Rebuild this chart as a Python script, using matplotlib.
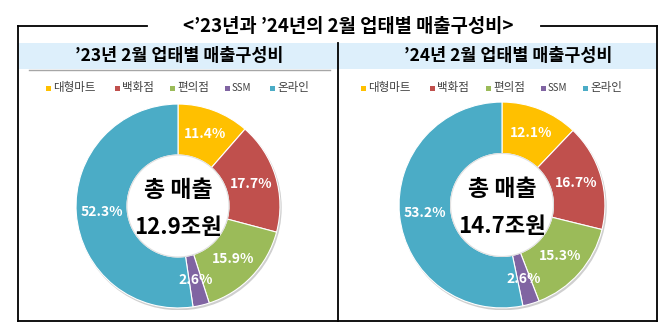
import numpy as np
import matplotlib.pyplot as plt
from matplotlib.patches import Rectangle, Circle, Wedge

plt.rcParams['font.family'] = ['Noto Sans CJK KR', 'DejaVu Sans']

W, H = 671, 335

categories = ["대형마트", "백화점", "편의점", "SSM", "온라인"]
share_23 = [11.4, 17.7, 15.9, 2.6, 52.3]
share_24 = [12.1, 16.7, 15.3, 2.6, 53.2]
total_23 = "12.9조원"
total_24 = "14.7조원"
colors = ["#FFC000", "#C0504D", "#9BBB59", "#8064A2", "#4BACC6"]

fig = plt.figure(figsize=(W / 100, H / 100), dpi=100)

# 픽셀 좌표(위에서부터) -> figure 비율
def fx(x):
    return x / W

def fy(y):
    return 1 - y / H

# 바깥 테두리와 제목 밴드
bg = fig.add_axes([0, 0, 1, 1])
bg.set_xlim(0, W)
bg.set_ylim(H, 0)
bg.axis("off")

bg.add_patch(Rectangle((18, 43), 639, 26, facecolor="#DDEFFB", edgecolor="none"))
lw = 1.3
bg.plot([18, 147], [26, 26], color="black", lw=lw)
bg.plot([541, 657], [26, 26], color="black", lw=lw)
bg.plot([18, 18], [26, 321], color="black", lw=lw)
bg.plot([657, 657], [26, 321], color="black", lw=lw)
bg.plot([18, 657], [321, 321], color="black", lw=lw)
bg.plot([338, 338], [43, 321], color="black", lw=lw)
bg.plot([29, 330], [70, 70], color="#A6A6A6", lw=1.0)

bg.text(348, 27, "<’23년과 ’24년의 2월 업태별 매출구성비>", ha="center", va="center",
        fontsize=13.5, fontweight="semibold", color="black")
bg.text(179, 56, "’23년 2월 업태별 매출구성비", ha="center", va="center",
        fontsize=12.5, fontweight="bold", color="black")
bg.text(508, 56, "’24년 2월 업태별 매출구성비", ha="center", va="center",
        fontsize=12.5, fontweight="bold", color="black")


def donut(cx, cy, r, values, total, legend_x):
    ax = fig.add_axes([fx(cx - r), fy(cy + r), 2 * r / W, 2 * r / H])
    ax.set_aspect("equal")
    ax.axis("off")
    # 옅은 그림자 (고리 모양)
    ax.add_patch(Wedge((0.012, -0.018), 1.005, 0, 360, width=0.51,
                       facecolor="#CFCFCF", edgecolor="none", zorder=0))
    wedges, _ = ax.pie(values, colors=colors, startangle=90, counterclock=False,
                       radius=1.0, wedgeprops=dict(width=0.5, edgecolor="white", linewidth=0.8))
    for w in wedges:
        w.set_zorder(1)
    ax.add_patch(Circle((0, 0), 0.5, facecolor="white", edgecolor="#E0E0E0", lw=0.8, zorder=2))
    ax.set_xlim(-1.02, 1.02)
    ax.set_ylim(-1.02, 1.02)
    start = 90.0
    for v in values:
        mid = np.deg2rad(start - v / 2 * 3.6)
        ax.text(0.75 * np.cos(mid), 0.75 * np.sin(mid), f"{v:.1f}%", ha="center", va="center",
                fontsize=10, fontweight="bold", color="white", zorder=3)
        start -= v * 3.6
    ax.text(0, 0.15, "총 매출", ha="center", va="center", fontsize=16.5, fontweight="bold", zorder=3)
    ax.text(0, -0.21, total, ha="center", va="center", fontsize=16, fontweight="bold", zorder=3)

    # 범례
    for x, lab, c in zip(legend_x, categories, colors):
        bg.add_patch(Rectangle((x - 2.5, 85.5), 5, 5, facecolor=c, edgecolor="none"))
        fs = 7 if lab == "SSM" else 8.3
        bg.text(x + 5, 88, lab, ha="left", va="center", fontsize=fs, color="#404040")


donut(178, 206, 104, share_23, total_23, [48, 117, 172, 227, 272])
donut(502, 205, 105, share_24, total_24, [363, 432, 488, 543, 585])

fig.savefig("out.png", dpi=100)
